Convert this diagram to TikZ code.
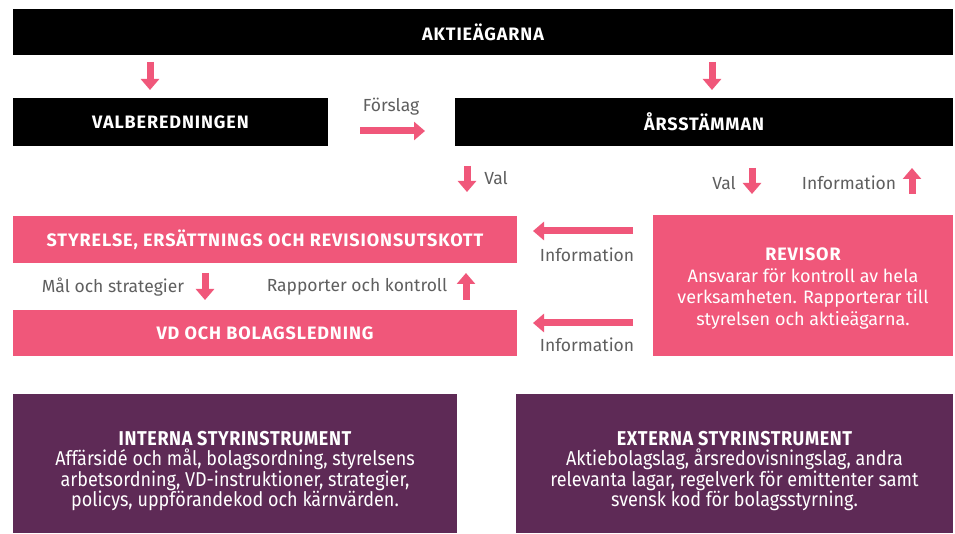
\documentclass[tikz,border=0pt]{standalone}
\usepackage{fontspec}
\setmainfont{Fira Sans}
\newfontfamily\headfont[LetterSpace=5]{Fira Sans}
\newfontfamily\condfont[FakeStretch=0.9]{Fira Sans}
\newfontfamily\condhead[FakeStretch=0.9,LetterSpace=3]{Fira Sans}
\usetikzlibrary{arrows.meta}
\definecolor{pinkc}{HTML}{F0577A}
\definecolor{purplec}{HTML}{5E2A56}
\definecolor{grayt}{HTML}{5F5F5F}
\tikzset{
  headtext/.style={font=\headfont\bfseries\fontsize{18}{21}\selectfont},
  blackbox/.style={fill=black, text=white, headtext, minimum height=#1, inner sep=0pt, anchor=center},
  pinkbox/.style={fill=pinkc, text=white, headtext, inner sep=0pt, anchor=center},
  purplebox/.style={fill=purplec, inner sep=0pt, anchor=center},
  purpletext/.style={text=white, inner sep=0pt, anchor=center, align=center, font=\condfont\fontsize{20}{20.4}\selectfont},
  revtext/.style={text=white, inner sep=0pt, anchor=center, align=center, font=\fontsize{18}{21.6}\selectfont},
  lbl/.style={text=grayt, font=\fontsize{17.5}{20}\selectfont, inner sep=0pt, anchor=center},
  blockarrow/.style={draw=pinkc, line width=7pt, -{Triangle[width=18pt,length=11pt]}}
}
\begin{document}
\begin{tikzpicture}[x=1pt,y=-1pt]
\useasboundingbox[fill=white] (0,0) rectangle (955,534);
% boxes
\node[blackbox=46pt, minimum width=940pt] (aktie) at (483,32.5) {AKTIEÄGARNA};
\node[blackbox=48pt, minimum width=315pt] (valb) at (170.5,122) {VALBEREDNINGEN};
\node[blackbox=48pt, minimum width=498pt] (arss) at (704,122) {ÅRSSTÄMMAN};
\node[pinkbox, minimum width=504pt, minimum height=47pt] (styr) at (265,239.5) {STYRELSE, ERSÄTTNINGS OCH REVISIONSUTSKOTT};
\node[pinkbox, minimum width=504pt, minimum height=46pt] (vd) at (265,333) {VD OCH BOLAGSLEDNING};
\node[pinkbox, minimum width=300pt, minimum height=141pt] (rev) at (803,285.5) {};
\node[revtext] (revt) at ([yshift=-3pt]rev.center) {{\headfont\bfseries REVISOR}\\Ansvarar för kontroll av hela\\verksamheten. Rapporterar till\\styrelsen och aktieägarna.};
\node[purplebox, minimum width=444pt, minimum height=139pt] (intern) at (235,463.5) {};
\node[purpletext] (internt) at ([yshift=-7.5pt]intern.center) {{\condhead\bfseries INTERNA STYRINSTRUMENT}\\Affärsidé och mål, bolagsordning, styrelsens\\arbetsordning, VD-instruktioner, strategier,\\policys, uppförandekod och kärnvärden.};
\node[purplebox, minimum width=437pt, minimum height=139pt] (extern) at (734.5,463.5) {};
\node[purpletext] (externt) at ([yshift=-7.5pt]extern.center) {{\condhead\bfseries EXTERNA STYRINSTRUMENT}\\Aktiebolagslag, årsredovisningslag, andra\\relevanta lagar, regelverk för emittenter samt\\svensk kod för bolagsstyrning.};
% labels
\node[lbl] (forslag) at (391,107) {Förslag};
\node[lbl] (val1) at (496,178) {Val};
\node[lbl] (val2) at (724,183) {Val};
\node[lbl] (info1) at (849,183) {Information};
\node[lbl] (mal) at (113,287) {Mål och strategier};
\node[lbl] (rapp) at (357,287) {Rapporter och kontroll};
\node[lbl] (info2) at (587,255) {Information};
\node[lbl] (info3) at (587,345) {Information};
% arrow coordinates
\coordinate (a1s) at (150,62);  \coordinate (a1e) at (150,90);
\coordinate (a2s) at (712,62);  \coordinate (a2e) at (712,90);
\coordinate (fs) at (360,131);  \coordinate (fe) at (425,131);
\coordinate (v1s) at (467,166); \coordinate (v1e) at (467,192);
\coordinate (v2s) at (752,168); \coordinate (v2e) at (752,194);
\coordinate (i1s) at (912,194); \coordinate (i1e) at (912,168);
\coordinate (ms) at (205,273);  \coordinate (me) at (205,300);
\coordinate (rs) at (466,300);  \coordinate (re) at (466,273);
\coordinate (i2s) at (633,231); \coordinate (i2e) at (533,231);
\coordinate (i3s) at (633,323); \coordinate (i3e) at (533,323);
\foreach \s/\e in {a1s/a1e,a2s/a2e,fs/fe,v1s/v1e,v2s/v2e,i1s/i1e,ms/me,rs/re,i2s/i2e,i3s/i3e}
  \draw[blockarrow] (\s) -- (\e);
\end{tikzpicture}
\end{document}
